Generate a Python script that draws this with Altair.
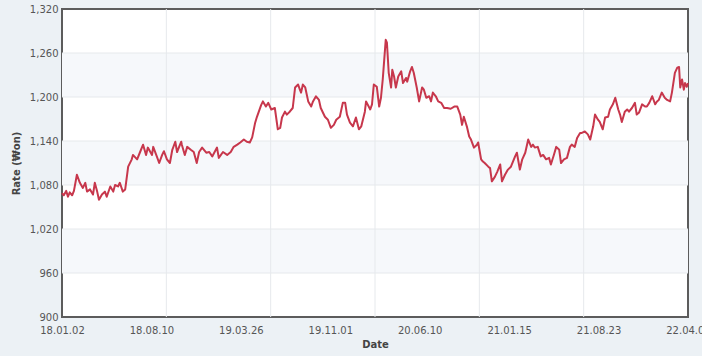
import altair as alt
import pandas as pd

# trading-day index (0 = 18.01.02) and KRW/USD rate
day = [0, 3, 7, 10, 13, 17, 20, 25, 30, 35, 39, 42, 47, 52, 55, 59, 62, 67, 72, 75,
       81, 86, 89, 94, 97, 102, 106, 111, 117, 119, 126, 131, 136, 141, 144, 151, 153, 159, 163, 168,
       171, 176, 181, 185, 190, 193, 200, 201, 206, 210, 216, 221, 226, 230, 235, 242, 247, 252, 260, 263,
       270, 277, 283, 288, 294, 299, 305, 310, 315, 319, 324, 327, 334, 337, 342, 346, 351, 357, 362, 366,
       369, 374, 377, 382, 387, 391, 396, 399, 401, 404, 408, 413, 418, 421, 426, 431, 434, 441, 446, 451,
       456, 460, 466, 471, 475, 478, 483, 488, 493, 498, 502, 508, 510, 517, 520, 523, 528, 532, 535, 538,
       543, 545, 548, 552, 554, 557, 560, 564, 569, 572, 577, 579, 584, 587, 590, 595, 599, 604, 607, 611,
       616, 619, 622, 627, 631, 636, 641, 646, 652, 658, 663, 668, 671, 674, 679, 683, 686, 691, 696, 698,
       703, 706, 709, 715, 718, 721, 726, 730, 735, 738, 743, 748, 753, 760, 763, 768, 772, 777, 782, 787,
       790, 793, 798, 803, 807, 812, 817, 820, 825, 829, 834, 837, 842, 847, 852, 855, 860, 864, 869, 872,
       877, 882, 886, 891, 894, 899, 902, 907, 911, 916, 919, 924, 928, 933, 936, 939, 944, 948, 951, 956,
       961, 964, 968, 973, 978, 981, 985, 990, 995, 998, 1001, 1006, 1011, 1015, 1020, 1023, 1028, 1032, 1035, 1037,
       1040, 1043, 1045, 1048, 1050]
rate = [1069, 1066, 1072, 1064, 1070, 1066, 1072, 1094, 1083, 1076, 1083, 1071, 1074, 1067, 1083, 1071, 1060, 1067, 1071, 1064,
        1078, 1071, 1080, 1078, 1083, 1071, 1074, 1105, 1115, 1121, 1115, 1125, 1135, 1121, 1131, 1121, 1132, 1119, 1110, 1121,
        1126, 1115, 1110, 1128, 1139, 1125, 1139, 1135, 1121, 1132, 1128, 1125, 1110, 1125, 1131, 1124, 1125, 1119, 1131, 1117,
        1125, 1121, 1125, 1132, 1135, 1138, 1142, 1139, 1138, 1145, 1165, 1173, 1189, 1194, 1187, 1192, 1183, 1185, 1156, 1158,
        1172, 1180, 1176, 1180, 1185, 1213, 1217, 1210, 1206, 1217, 1213, 1194, 1187, 1194, 1201, 1196, 1185, 1173, 1169, 1158,
        1162, 1169, 1173, 1192, 1192, 1176, 1165, 1160, 1172, 1156, 1160, 1180, 1194, 1183, 1190, 1217, 1214, 1187, 1199, 1224,
        1278, 1274, 1233, 1213, 1237, 1228, 1213, 1228, 1235, 1219, 1226, 1221, 1235, 1241, 1233, 1213, 1194, 1213, 1210, 1199,
        1201, 1194, 1206, 1201, 1194, 1192, 1185, 1185, 1184, 1187, 1187, 1176, 1162, 1173, 1160, 1146, 1142, 1131, 1135, 1138,
        1115, 1112, 1110, 1105, 1103, 1085, 1091, 1098, 1108, 1085, 1094, 1101, 1105, 1119, 1124, 1101, 1115, 1124, 1142, 1132,
        1135, 1131, 1132, 1119, 1121, 1115, 1117, 1108, 1121, 1132, 1128, 1110, 1115, 1117, 1132, 1135, 1132, 1144, 1151, 1151,
        1153, 1149, 1142, 1160, 1176, 1169, 1166, 1156, 1172, 1173, 1183, 1190, 1199, 1183, 1176, 1166, 1180, 1183, 1180, 1185,
        1192, 1176, 1179, 1190, 1187, 1187, 1192, 1201, 1190, 1194, 1196, 1206, 1199, 1196, 1194, 1206, 1233, 1240, 1241, 1213,
        1224, 1210, 1219, 1214, 1219]

label_days = [0, 150, 300, 450, 600, 750, 900, 1050]
label_text = ["18.01.02", "18.08.10", "19.03.26", "19.11.01", "20.06.10", "21.01.15", "21.08.23", "22.04.01"]
grid_days = [175, 350, 525, 700, 875]
y_ticks = [900, 960, 1020, 1080, 1140, 1200, 1260, 1320]
band_lo = [960, 1080, 1200]
band_hi = [1020, 1140, 1260]

FONT = "DejaVu Sans"
LINE_COLOR = "#c7374c"
GRID_COLOR = "#e6e9ec"

df = pd.DataFrame({"day": day, "rate": rate})
bands = pd.DataFrame({"lo": band_lo, "hi": band_hi})
vgrid = pd.DataFrame({"d": grid_days})
hgrid = pd.DataFrame({"v": y_ticks[1:-1]})

expr = ""
for p, t in zip(label_days, label_text):
    expr += f"datum.value == {p} ? '{t}' : "
expr += "''"

xscale = alt.Scale(domain=[0, 1050], nice=False, zero=False)
yscale = alt.Scale(domain=[900, 1320], nice=False, zero=False)

xaxis = alt.Axis(values=label_days, labelExpr=expr, grid=False, domain=False, ticks=False,
                 labelPadding=8, labelFont=FONT, labelFontSize=10, labelColor="#555555",
                 labelFlush=False, labelBound=False,
                 title="Date", titleFont=FONT, titleFontSize=10, titleFontWeight="bold",
                 titleColor="#444444", titlePadding=4, labelOverlap=False)
yaxis = alt.Axis(values=y_ticks, format=",d", grid=False, domain=False, ticks=False,
                 labelPadding=4, labelFont=FONT, labelFontSize=10, labelColor="#555555",
                 labelFlush=False,
                 title="Rate (₩on)", titleFont=FONT, titleFontSize=10, titleFontWeight="bold",
                 titleColor="#444444", titlePadding=8)

band_layer = alt.Chart(bands).mark_rect(color="#f6f8fb").encode(
    y=alt.Y("lo:Q", scale=yscale, axis=yaxis),
    y2="hi:Q",
)
vgrid_layer = alt.Chart(vgrid).mark_rule(color=GRID_COLOR, strokeWidth=1).encode(
    x=alt.X("d:Q", scale=xscale, axis=xaxis),
)
hgrid_layer = alt.Chart(hgrid).mark_rule(color=GRID_COLOR, strokeWidth=1).encode(
    y=alt.Y("v:Q", scale=yscale),
)
line_layer = alt.Chart(df).mark_line(color=LINE_COLOR, strokeWidth=2, strokeJoin="round").encode(
    x=alt.X("day:Q", scale=xscale, axis=xaxis),
    y=alt.Y("rate:Q", scale=yscale, axis=yaxis),
)

chart = alt.layer(band_layer, hgrid_layer, vgrid_layer, line_layer).properties(
    width=626, height=308,
    autosize=alt.AutoSizeParams(type="none"),
    padding={"left": 62, "top": 9, "right": 14, "bottom": 39},
    background="#ecf1f5",
).configure_view(
    fill="white", stroke="#5c5c5c", strokeWidth=2
)

chart.save("out.html", embed_options={"renderer": "svg", "actions": False})
